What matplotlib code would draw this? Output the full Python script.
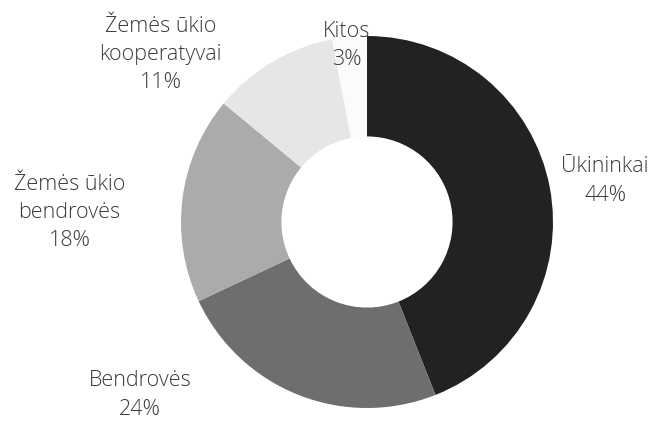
import matplotlib
matplotlib.use("Agg")
import matplotlib.pyplot as plt

categories = ["Ūkininkai", "Bendrovės", "Žemės ūkio\nbendrovės", "Žemės ūkio\nkooperatyvai", "Kitos"]
shares = [44, 24, 18, 11, 3]
colors = ["#222222", "#6e6e6e", "#ababab", "#e6e6e6", "#fbfbfb"]
label_pos = [(1.28, 0.22), (-1.22, -0.93), (-1.60, 0.05), (-1.11, 0.90), (-0.11, 0.95)]

plt.rcParams['font.family'] = ['Open Sans', 'DejaVu Sans']

W, H = 665, 421
fig = plt.figure(figsize=(W / 100, H / 100), dpi=100)
ax = fig.add_axes([0, 0, 1, 1])
cx, cy, R = 367, 222, 186

ax.pie(shares, colors=colors, startangle=90, counterclock=False, radius=1,
       wedgeprops=dict(width=0.54, edgecolor="none"))
ax.set_xlim(-cx / R, (W - cx) / R)
ax.set_ylim(-(H - cy) / R, cy / R)
ax.set_aspect('equal')
ax.axis('off')

for cat, s, (x, y) in zip(categories, shares, label_pos):
    ax.text(x, y, f"{cat}\n{s}%", ha='center', va='center', fontsize=15.5,
            fontweight='light', color='#3a3a3a', linespacing=1.45)

fig.savefig("out.png", dpi=100)
